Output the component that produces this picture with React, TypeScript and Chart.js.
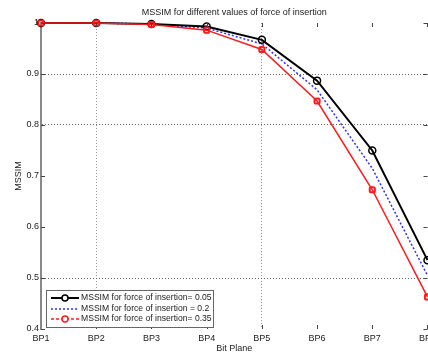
import React, { useEffect, useRef } from "react";
import { Chart, registerables } from "chart.js";

Chart.register(...registerables);

const categories = ["BP1", "BP2", "BP3", "BP4", "BP5", "BP6", "BP7", "BP8"];
const force005 = [1.0, 1.0, 0.998, 0.993, 0.967, 0.887, 0.75, 0.535];
const force02 = [1.0, 1.0, 0.998, 0.99, 0.959, 0.869, 0.715, 0.505];
const force035 = [1.0, 1.0, 0.997, 0.986, 0.948, 0.847, 0.673, 0.463];
const seriesNames = [
  "MSSIM for force of insertion= 0.05",
  "MSSIM for force of insertion = 0.2",
  "MSSIM for force of insertion= 0.35",
];
const titleText = "MSSIM for different values of force of insertion";
const xTitle = "Bit Plane";
const yTitle = "MSSIM";
const visibleYGrid = [0.8, 0.9, 0.5];
const visibleXGrid = ["BP2", "BP5"];

const FONT = "'Liberation Sans', Arial, sans-serif";

const overlayPlugin = {
  id: "overlay",
  afterDraw(chart: any) {
    const { ctx, chartArea } = chart;
    ctx.save();
    // tick marks (inward)
    ctx.strokeStyle = "#444";
    ctx.lineWidth = 1;
    const ys = chart.scales.y;
    for (const t of ys.ticks) {
      const py = Math.round(ys.getPixelForValue(t.value)) + 0.5;
      ctx.beginPath();
      ctx.moveTo(chartArea.left, py);
      ctx.lineTo(chartArea.left + 4, py);
      ctx.moveTo(chartArea.right, py);
      ctx.lineTo(chartArea.right - 4, py);
      ctx.stroke();
    }
    const xs = chart.scales.x;
    for (let i = 1; i < categories.length; i++) {
      const px = Math.round(xs.getPixelForValue(i)) + 0.5;
      ctx.beginPath();
      ctx.moveTo(px, chartArea.top);
      ctx.lineTo(px, chartArea.top + 4);
      ctx.moveTo(px, chartArea.bottom);
      ctx.lineTo(px, chartArea.bottom - 4);
      ctx.stroke();
    }
    // title
    ctx.fillStyle = "#222";
    ctx.font = `9px ${FONT}`;
    ctx.textAlign = "center";
    ctx.textBaseline = "middle";
    ctx.fillText(titleText, (chartArea.left + chartArea.right) / 2, 12.5);
    // legend box
    const bx = 46, by = 290, bw = 167, bh = 37;
    ctx.fillStyle = "#fff";
    ctx.fillRect(bx, by, bw, bh);
    ctx.strokeStyle = "#666";
    ctx.lineWidth = 1;
    ctx.strokeRect(bx + 0.5, by + 0.5, bw, bh);
    const rowsY = [by + 8, by + 19, by + 29];
    const ds = chart.data.datasets;
    for (let i = 0; i < ds.length; i++) {
      const d = ds[i];
      const y = rowsY[i];
      ctx.strokeStyle = d.borderColor;
      ctx.lineWidth = d.borderWidth;
      ctx.setLineDash(i === 0 ? [] : i === 1 ? [2, 2] : [3, 2]);
      ctx.beginPath();
      ctx.moveTo(bx + 5, y);
      ctx.lineTo(bx + 33, y);
      ctx.stroke();
      ctx.setLineDash([]);
      if (d.pointRadius > 0) {
        ctx.beginPath();
        ctx.arc(bx + 19, y, 3, 0, Math.PI * 2);
        ctx.fillStyle = "#fff";
        ctx.fill();
        ctx.lineWidth = 1.5;
        ctx.strokeStyle = d.pointBorderColor;
        ctx.stroke();
      }
      ctx.fillStyle = "#222";
      ctx.font = `8.6px ${FONT}`;
      ctx.textAlign = "left";
      ctx.textBaseline = "middle";
      ctx.fillText(seriesNames[i], bx + 35, y);
    }
    ctx.restore();
  },
};

export default function App() {
  const ref = useRef<HTMLCanvasElement>(null);
  useEffect(() => {
    if (!ref.current) return;
    const chart = new Chart(ref.current, {
      type: "line",
      data: {
        labels: categories,
        datasets: [
          {
            label: seriesNames[0],
            data: force005,
            borderColor: "#000",
            borderWidth: 2,
            pointRadius: 3.5,
            pointBorderWidth: 1.5,
            pointBorderColor: "#000",
            pointBackgroundColor: "rgba(255,255,255,0)",
            clip: false as any,
            order: 1,
          },
          {
            label: seriesNames[1],
            data: force02,
            borderColor: "#3030ff",
            borderWidth: 1.5,
            borderDash: [2, 2],
            pointRadius: 0,
            clip: false as any,
            order: 2,
          },
          {
            label: seriesNames[2],
            data: force035,
            borderColor: "#ff1a1a",
            borderWidth: 1.5,
            pointRadius: 3,
            pointStyle: "rectRounded",
            pointBorderWidth: 2,
            pointBorderColor: "#ff1a1a",
            pointBackgroundColor: "rgba(255,255,255,0)",
            clip: false as any,
            order: 0,
          },
        ],
      },
      options: {
        responsive: false,
        animation: false,
        layout: { padding: { top: 23, right: 10, bottom: 0, left: 0 } },
        plugins: { legend: { display: false }, title: { display: false }, tooltip: { enabled: false } },
        scales: {
          x: {
            afterFit(scale: any) {
              scale.height = 23;
            },
            grid: {
              color: (c: any) =>
                c.tick && visibleXGrid.includes(categories[c.tick.value]) ? "#999" : "rgba(0,0,0,0)",
              drawTicks: false,
              lineWidth: 1,
            },
            border: { display: false, dash: [1, 2] },
            ticks: { padding: 4, color: "#222", font: { family: FONT, size: 9 }, maxRotation: 0, autoSkip: false },
            title: { display: true, text: xTitle, color: "#222", font: { family: FONT, size: 9 }, padding: { top: 0, bottom: -2 } },
          },
          y: {
            min: 0.4,
            max: 1,
            afterFit(scale: any) {
              scale.width = 41;
            },
            grid: {
              color: (c: any) =>
                c.tick && visibleYGrid.some((v) => Math.abs(v - c.tick.value) < 1e-6) ? "#666" : "rgba(0,0,0,0)",
              drawTicks: false,
              lineWidth: 1,
            },
            border: { display: true, color: "#888", width: 2, dash: [1, 2] },
            ticks: {
              stepSize: 0.1,
              padding: 2,
              color: "#222",
              font: { family: FONT, size: 9 },
              callback: (v: any) => String(Math.round(Number(v) * 10) / 10),
            },
            title: { display: true, text: yTitle, color: "#222", font: { family: FONT, size: 9 }, padding: { top: 13, bottom: 0 } },
          },
        },
      },
      plugins: [overlayPlugin],
    });
    return () => chart.destroy();
  }, []);
  return (
    <div style={{ position: "fixed", left: 0, top: 0, width: 428, height: 352, overflow: "hidden", background: "#fff" }}>
      <canvas ref={ref} width={440} height={352} style={{ display: "block", width: 440, height: 352 }} />
    </div>
  );
}
